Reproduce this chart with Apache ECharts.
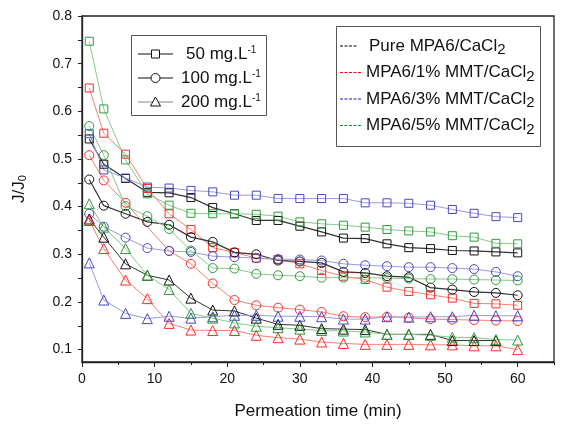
<!DOCTYPE html>
<html><head><meta charset="utf-8">
<script src="https://cdn.jsdelivr.net/npm/echarts@6/dist/echarts.min.js"></script>
<style>html,body{margin:0;padding:0;background:#fff}#c{width:568px;height:425px}</style>
</head><body><div id="c"></div>
<script>
// Permeation time (min)
const times = [1,3,6,9,12,15,18,21,24,27,30,33,36,39,42,45,48,51,54,57,60];
// 50 mg/L (squares)
const pure50 = [0.542,0.489,0.459,0.430,0.429,0.419,0.398,0.385,0.371,0.371,0.359,0.347,0.334,0.333,0.322,0.314,0.312,0.308,0.307,0.305,0.303];
const mmt1_50 = [0.649,0.554,0.510,0.438,0.385,0.352,0.314,0.304,0.292,0.289,0.280,0.266,0.254,0.247,0.231,0.222,0.215,0.208,0.197,0.196,0.193];
const mmt3_50 = [0.553,0.477,0.460,0.441,0.439,0.434,0.431,0.424,0.424,0.417,0.417,0.417,0.417,0.408,0.408,0.407,0.403,0.394,0.386,0.379,0.377];
const mmt5_50 = [0.747,0.605,0.498,0.427,0.403,0.386,0.385,0.385,0.384,0.380,0.368,0.364,0.361,0.357,0.352,0.349,0.347,0.339,0.336,0.323,0.322];
// 100 mg/L (circles)
const pure100 = [0.457,0.402,0.385,0.368,0.362,0.336,0.326,0.304,0.300,0.287,0.285,0.282,0.263,0.261,0.254,0.252,0.230,0.226,0.221,0.219,0.214];
const mmt1_100 = [0.508,0.455,0.408,null,0.307,0.280,0.239,0.204,0.193,0.188,0.184,0.179,0.170,0.168,0.169,0.167,0.164,0.163,0.162,0.161,0.160];
const mmt3_100 = [0.385,0.358,0.335,0.313,0.307,0.305,0.296,0.294,0.292,0.290,0.289,0.287,0.280,0.277,0.275,0.273,0.273,0.271,0.269,0.263,0.254];
const mmt5_100 = [0.569,0.508,0.401,0.380,0.353,0.308,0.271,0.270,0.259,0.256,0.254,0.251,0.251,0.251,0.250,0.249,0.248,0.248,0.247,0.246,0.245];
// 200 mg/L (triangles)
const pure200 = [0.374,0.336,0.280,0.256,0.246,0.208,0.183,0.181,0.166,0.153,0.151,0.144,0.143,0.142,0.132,0.132,0.132,0.119,0.119,0.119,null];
const mmt1_200 = [0.371,0.312,0.246,0.207,0.155,0.141,0.140,0.140,0.130,0.125,0.122,0.116,0.113,0.111,0.111,0.111,0.110,0.110,0.108,0.108,0.100];
const mmt3_200 = [0.282,0.204,0.176,0.165,0.170,0.166,0.169,0.172,0.172,0.170,0.170,0.169,0.164,0.164,0.169,0.168,0.169,0.169,0.172,0.171,0.171];
const mmt5_200 = [0.406,0.357,0.312,0.256,0.226,0.176,0.166,0.156,0.149,0.146,0.143,0.140,0.139,0.137,0.132,0.132,0.130,0.126,0.125,0.121,0.120];
// tick labels
const xTickLabels = [0,10,20,30,40,50,60];
const yTickLabels = [0.1,0.2,0.3,0.4,0.5,0.6,0.7,0.8];

const FONT = 'Arial, "Liberation Sans", sans-serif';
const C = {
  black: {m:'#111111', l:'#333333'},
  red:   {m:'#ff2a2a', l:'#f4826e'},
  blue:  {m:'#4848c8', l:'#9a9ae0'},
  green: {m:'#2f9a3a', l:'#86c98c'}
};
function mk(name, arr, symbol, size, col, lw){
  return {
    name, type:'line', data: times.map((t,i)=>[t, arr[i]]), connectNulls:true,
    symbol, symbolSize:size, showSymbol:true,
    lineStyle:{color:col.l, width:lw},
    itemStyle:{color:'rgba(255,255,255,0)', borderColor:col.m, borderWidth:1},
    emphasis:{disabled:true}, animation:false
  };
}
const series = [
  mk('pure50', pure50, 'rect', 8, C.black, 1.2),
  mk('mmt1_50', mmt1_50, 'rect', 8, C.red, 1),
  mk('mmt3_50', mmt3_50, 'rect', 8, C.blue, 1),
  mk('mmt5_50', mmt5_50, 'rect', 8, C.green, 1),
  mk('pure100', pure100, 'circle', 9, C.black, 1.2),
  mk('mmt1_100', mmt1_100, 'circle', 9, C.red, 1),
  mk('mmt3_100', mmt3_100, 'circle', 9, C.blue, 1),
  mk('mmt5_100', mmt5_100, 'circle', 9, C.green, 1),
  mk('pure200', pure200, 'triangle', 10, C.black, 1),
  mk('mmt1_200', mmt1_200, 'triangle', 10, C.red, 1),
  mk('mmt3_200', mmt3_200, 'triangle', 10, C.blue, 1),
  mk('mmt5_200', mmt5_200, 'triangle', 10, C.green, 1)
];

const yTicks = [];
for (let k=2;k<=16;k++) yTicks.push(+(k*0.05).toFixed(2));
const xMinor = [5,15,25,35,45,55,65];

// legend graphics
const G = [];
G.push({type:'rect', shape:{x:131.5,y:35.5,width:135,height:80}, style:{fill:'#fff', stroke:'#555', lineWidth:1}, z:50});
const l1 = [
  {y:54, sym:'rect', txt:'50 mg.L{sup|-1}', tx:186, col:'#111'},
  {y:78, sym:'circle', txt:'100 mg.L{sup|-1}', tx:181, col:'#111'},
  {y:102, sym:'triangle', txt:'200 mg.L{sup|-1}', tx:181, col:'#888'}
];
l1.forEach(r=>{
  G.push({type:'line', shape:{x1:138,y1:r.y,x2:173,y2:r.y}, style:{stroke:r.col, lineWidth:1.2}, z:51});
  if (r.sym==='rect') G.push({type:'rect', shape:{x:151.5,y:r.y-4,width:8,height:8}, style:{fill:'#fff', stroke:'#111', lineWidth:1}, z:52});
  if (r.sym==='circle') G.push({type:'circle', shape:{cx:155.5,cy:r.y,r:4.5}, style:{fill:'#fff', stroke:'#111', lineWidth:1}, z:52});
  if (r.sym==='triangle') G.push({type:'polygon', shape:{points:[[155.5,r.y-5],[150.5,r.y+4],[160.5,r.y+4]]}, style:{fill:'#fff', stroke:'#111', lineWidth:1}, z:52});
  G.push({type:'text', x:r.tx, y:r.y, z:52, style:{text:r.txt, fill:'#111', font:'17px '+FONT, verticalAlign:'middle',
    rich:{sup:{fontSize:10, fontFamily:FONT, fill:'#111', verticalAlign:'top', padding:[0,0,6,0]}}}});
});
G.push({type:'rect', shape:{x:336.5,y:26.5,width:204,height:120}, style:{fill:'#fff', stroke:'#555', lineWidth:1}, z:50});
const l2 = [
  {y:46, col:'#000000', txt:'Pure MPA6/CaCl{sub|2}', tx:369, x2:357},
  {y:72.5, col:'#ff0000', txt:'MPA6/1% MMT/CaCl{sub|2}', tx:366, x2:361},
  {y:99, col:'#1a1a9a', txt:'MPA6/3% MMT/CaCl{sub|2}', tx:366, x2:361},
  {y:125.5, col:'#118a22', txt:'MPA6/5% MMT/CaCl{sub|2}', tx:366, x2:361}
];
l2.forEach(r=>{
  G.push({type:'line', shape:{x1:340,y1:r.y,x2:r.x2,y2:r.y}, style:{stroke:r.col, lineWidth:1.2, lineDash:[3,1.5]}, z:51});
  G.push({type:'text', x:r.tx, y:r.y, z:52, style:{text:r.txt, fill:'#111', font:'17px '+FONT, verticalAlign:'middle',
    rich:{sub:{fontSize:15, fontFamily:FONT, fill:'#111', verticalAlign:'bottom', padding:[8,0,0,0]}}}});
});

const chart = echarts.init(document.getElementById('c'), null, {renderer:'canvas'});
chart.setOption({
  animation:false,
  backgroundColor:'#fff',
  grid:{left:82, top:16, width:472, height:346, show:true, borderColor:'#222', borderWidth:1.3, backgroundColor:'transparent'},
  xAxis:[{
    type:'value', min:0, max:65,
    name:'Permeation time (min)', nameLocation:'middle', nameGap:41,
    nameTextStyle:{fontFamily:FONT, fontSize:17, color:'#111'},
    axisLine:{show:true, lineStyle:{color:'#222', width:1.3}},
    axisTick:{show:true, inside:false, length:5, customValues:xTickLabels, lineStyle:{color:'#222', width:1}},
    axisLabel:{customValues:xTickLabels, fontFamily:FONT, fontSize:14, color:'#111', margin:10},
    splitLine:{show:false}
  },{
    type:'value', min:0, max:65, position:'bottom', gridIndex:0,
    axisLine:{show:false},
    axisTick:{show:true, inside:false, length:3, customValues:xMinor, lineStyle:{color:'#222', width:1}},
    axisLabel:{show:false}, splitLine:{show:false}
  }],
  yAxis:{
    type:'value', min:0.074, max:0.8,
    name:'J/J{sub|0}', nameLocation:'middle', nameGap:54, nameRotate:90,
    nameTextStyle:{fontFamily:FONT, fontSize:17, color:'#111', rich:{sub:{fontSize:11, fontFamily:FONT, color:'#111', verticalAlign:'bottom', padding:[6,0,0,0]}}},
    axisLine:{show:true, lineStyle:{color:'#222', width:1.3}},
    axisTick:{show:true, inside:false, length:4, customValues:yTicks, lineStyle:{color:'#222', width:1}},
    axisLabel:{customValues:yTickLabels, formatter:v=>v.toFixed(1), fontFamily:FONT, fontSize:14, color:'#111', margin:10},
    splitLine:{show:false}
  },
  series,
  graphic:G
});
</script></body></html>
